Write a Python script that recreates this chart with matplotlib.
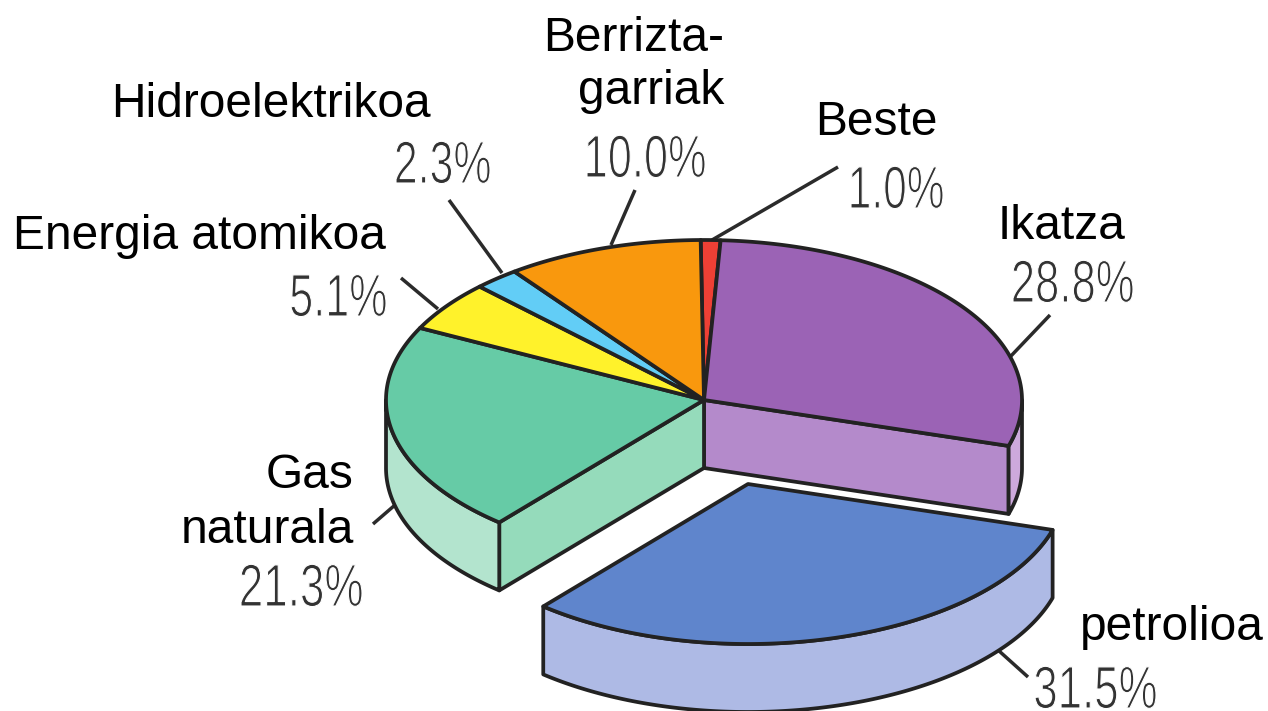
import numpy as np
import matplotlib
matplotlib.use("Agg")
import matplotlib.pyplot as plt
from matplotlib.patches import Polygon
from matplotlib.patheffects import AbstractPathEffect
from matplotlib.transforms import Affine2D
from matplotlib.textpath import TextPath
from matplotlib.font_manager import FontProperties

# ---- data (clockwise from 12 o'clock) ----
names = ["Beste", "Ikatza", "petrolioa", "Gas\nnaturala", "Energia atomikoa",
         "Hidroelektrikoa", "Berrizta-\ngarriak"]
shares = [1.0, 28.8, 31.5, 21.3, 5.1, 2.3, 10.0]
share_labels = ["1.0%", "28.8%", "31.5%", "21.3%", "5.1%", "2.3%", "10.0%"]

# ---- styles ----
top_colors = ["#EE4035", "#9B63B5", "#5F85CC", "#66CBA6", "#FFF22B", "#62CDF6", "#F9980D"]
side_colors = [None, "#CDA9DC", "#AEBAE5", "#B3E4CE", None, None, None]
cut_colors = [None, "#B48ACB", None, "#95DBBB", None, None, None]
EDGE = "#222222"
LW = 2.7
CX, CY, RX, RY, DEPTH = 704, 400, 318, 160, 68
START = -0.6
explode = [(0, 0), (0, 0), (44, 84), (0, 0), (0, 0), (0, 0), (0, 0)]

name_pos = [(938, 135, "right"), (1125, 239, "right"), (1264, 640, "right"),
            (354, 488, "right"), (386, 249, "right"), (431, 117, "right"), (724, 51, "right")]
pct_pos = [(851, 208, 92), (1013, 302, 120), (1035, 708, 121), (241, 606, 121),
           (291, 316, 95), (396, 183, 94), (587, 177, 118)]
leaders = [((838, 167), (712, 240)), ((1050, 315), (1010, 357)), ((998, 650), (1028, 677)),
           ((373, 524), (395, 505)), ((401, 278), (438, 309)), ((449, 200), (502, 273)),
           ((635, 190), (611, 245))]


class Squeezed(AbstractPathEffect):
    """Narrow and thin a text so it looks like a light condensed face."""
    def __init__(self, sx, thin):
        super().__init__()
        self.sx, self.thin = sx, thin

    def draw_path(self, renderer, gc, tpath, affine, rgbFace=None):
        aff = Affine2D().scale(self.sx, 1) + affine
        renderer.draw_path(gc, tpath, aff, rgbFace)
        gc0 = renderer.new_gc()
        gc0.copy_properties(gc)
        gc0.set_foreground("white")
        gc0.set_linewidth(self.thin)
        renderer.draw_path(gc0, tpath, aff, None)
        gc0.restore()


fig = plt.figure(figsize=(12.68, 7.11), dpi=100, facecolor="white")
ax = fig.add_axes([0, 0, 1, 1])
ax.set_xlim(0, 1268)
ax.set_ylim(711, 0)
ax.axis("off")


def rim(a0, a1, dx=0, dy=0, drop=0):
    t = np.radians(np.linspace(a0, a1, max(int(abs(a1 - a0) * 2), 2)))
    return np.column_stack([CX + dx + RX * np.sin(t), CY + dy + drop - RY * np.cos(t)])


def poly(pts, color, z):
    ax.add_patch(Polygon(pts, closed=True, facecolor=color, edgecolor=EDGE,
                         linewidth=LW, joinstyle="round", zorder=z))


bounds = np.cumsum([0] + shares) * 3.6 + START
for i, (a0, a1) in enumerate(zip(bounds[:-1], bounds[1:])):
    dx, dy = explode[i]
    centre = np.array([[CX + dx, CY + dy]])
    # wall cut through the centre
    if cut_colors[i]:
        a = a1 if i == 1 else a0
        e = rim(a, a, dx, dy)[:1]
        off = np.array([[0, DEPTH]])
        poly(np.vstack([centre, e, e + off, centre + off]), cut_colors[i], 2)
    # outer rim wall, only the part turned to the viewer
    lo, hi = max(a0, 90), min(a1, 270)
    if side_colors[i] and hi > lo:
        poly(np.vstack([rim(lo, hi, dx, dy), rim(hi, lo, dx, dy, DEPTH)]), side_colors[i], 3)
    # top face
    poly(np.vstack([centre, rim(a0, a1, dx, dy)]), top_colors[i], 4 if i != 2 else 5)

for (p, q) in leaders:
    ax.plot([p[0], q[0]], [p[1], q[1]], color="#2b2b2b", lw=2.5, solid_capstyle="butt", zorder=1)

for name, (x, y, ha) in zip(names, name_pos):
    lines = name.split("\n")
    pitch = 53 if lines[0] == "Berrizta-" else 55
    for k, line in enumerate(lines):
        ax.text(x, y + k * pitch, line, ha=ha, va="baseline", fontsize=34.5,
                family="Liberation Sans", color="black", zorder=6)

PCT_SIZE = 43
fp = FontProperties(family="Liberation Sans", size=PCT_SIZE)
for lab, (x, y, w) in zip(share_labels, pct_pos):
    bb = TextPath((0, 0), lab, prop=fp).get_extents()
    natural = bb.width * 100 / 72
    t = ax.text(x - bb.x0 * 100 / 72 * w / natural, y, lab, ha="left", va="baseline",
                fontsize=PCT_SIZE, family="Liberation Sans", color="#333333", zorder=6)
    t.set_path_effects([Squeezed(w / natural, 0.8)])

fig.savefig("out.png", dpi=100)
